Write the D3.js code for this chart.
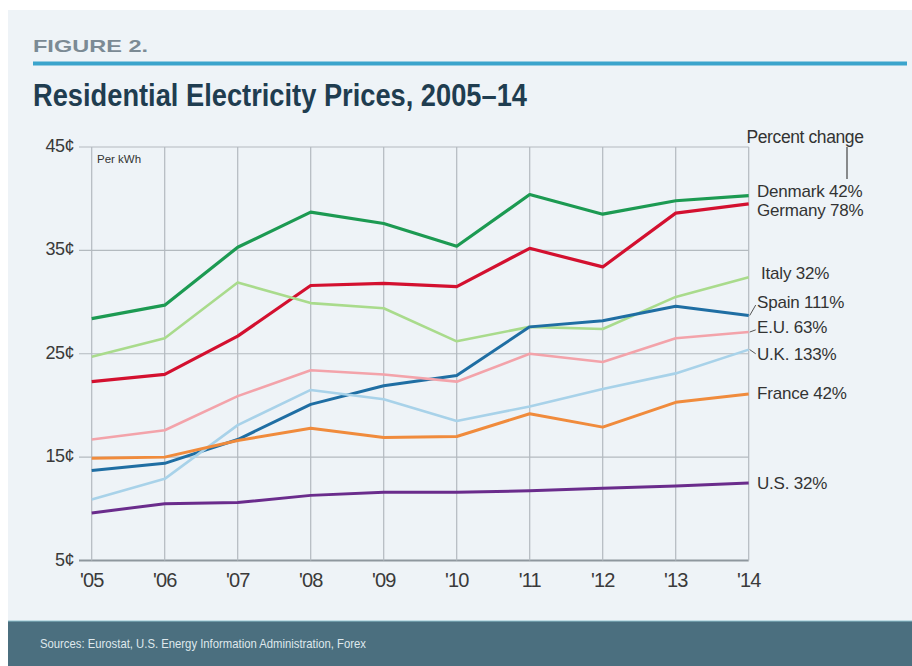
<!DOCTYPE html>
<html>
<head>
<meta charset="utf-8">
<script src="https://cdn.jsdelivr.net/npm/d3@7"></script>
<style>
  body { margin: 0; background: #fff; }
  text { font-family: "Liberation Sans", Arial, sans-serif; }
</style>
</head>
<body>
<div id="chart"></div>
<script>
// Data (cents per kWh)
var years = [2005, 2006, 2007, 2008, 2009, 2010, 2011, 2012, 2013, 2014];
var yearLabels = ["'05", "'06", "'07", "'08", "'09", "'10", "'11", "'12", "'13", "'14"];
var centTicks = [5, 15, 25, 35, 45];

var denmark = [28.4, 29.7, 35.3, 38.7, 37.6, 35.4, 40.4, 38.5, 39.8, 40.3];
var germany = [22.3, 23.0, 26.7, 31.6, 31.8, 31.5, 35.2, 33.4, 38.6, 39.5];
var italy   = [24.7, 26.5, 31.9, 29.9, 29.4, 26.2, 27.6, 27.4, 30.5, 32.4];
var spain   = [13.7, 14.4, 16.7, 20.1, 21.9, 22.9, 27.6, 28.2, 29.6, 28.7];
var eu      = [16.7, 17.6, 20.9, 23.4, 23.0, 22.3, 25.0, 24.2, 26.5, 27.1];
var uk      = [10.9, 12.9, 18.1, 21.5, 20.6, 18.5, 19.9, 21.6, 23.1, 25.4];
var france  = [14.9, 15.0, 16.6, 17.8, 16.9, 17.0, 19.2, 17.9, 20.3, 21.1];
var us      = [9.6, 10.5, 10.6, 11.3, 11.6, 11.6, 11.75, 12.0, 12.2, 12.5];

var names   = ["Denmark", "Germany", "Italy", "Spain", "E.U.", "U.K.", "France", "U.S."];
var changes = ["42%", "78%", "32%", "111%", "63%", "133%", "42%", "32%"];
var values  = [denmark, germany, italy, spain, eu, uk, france, us];

// label anchors (in cents) and styling
var labelAt = [40.7, 38.9, 32.8, 30.0, 27.6, 25.0, 21.2, 12.5];
var leader  = [false, false, false, true, true, true, false, false];
var colors  = ["#1c9a52", "#d3102f", "#a9db8c", "#1f6ea3", "#f3a3aa", "#a8d2e9", "#f08b3c", "#6a2c8c"];
var widths  = [3.2, 3.2, 2.6, 3, 2.6, 2.6, 3, 3];

var W = 912, H = 666;

var svg = d3.select("#chart")
    .append("svg")
    .attr("width", W)
    .attr("height", H);

// panel background and footer
svg.append("rect").attr("x", 8).attr("y", 10).attr("width", W - 8).attr("height", 612).attr("fill", "#eef3f7");
svg.append("rect").attr("x", 8).attr("y", 621).attr("width", W - 8).attr("height", 45).attr("fill", "#4b6f7f");
svg.append("line").attr("x1", 8).attr("x2", W).attr("y1", 621).attr("y2", 621)
    .attr("stroke", "#8fc3cf").attr("stroke-width", 1);

svg.append("text")
    .attr("x", 40).attr("y", 648)
    .attr("font-size", 13)
    .attr("fill", "#dfe8ec")
    .attr("textLength", 326).attr("lengthAdjust", "spacingAndGlyphs")
    .text("Sources: Eurostat, U.S. Energy Information Administration, Forex");

// header
svg.append("text")
    .attr("x", 33).attr("y", 52)
    .attr("font-size", 17).attr("font-weight", "bold")
    .attr("fill", "#7b8a94")
    .attr("textLength", 115).attr("lengthAdjust", "spacingAndGlyphs")
    .text("FIGURE 2.");

svg.append("line")
    .attr("x1", 33).attr("x2", 907).attr("y1", 63.5).attr("y2", 63.5)
    .attr("stroke", "#3ba4cc").attr("stroke-width", 4);

svg.append("text")
    .attr("x", 33).attr("y", 106)
    .attr("font-size", 31).attr("font-weight", "bold")
    .attr("fill", "#1f3d50")
    .attr("textLength", 494).attr("lengthAdjust", "spacingAndGlyphs")
    .text("Residential Electricity Prices, 2005\u201314");

// scales
var x = d3.scaleLinear().domain([2005, 2014]).range([91.7, 748.7]);
var y = d3.scaleLinear().domain([5, 45]).range([560.5, 147]);

// grid
var grid = svg.append("g");
grid.selectAll("line.h")
    .data(centTicks)
    .enter().append("line")
    .attr("x1", 79).attr("x2", x(2014))
    .attr("y1", function (d) { return y(d); })
    .attr("y2", function (d) { return y(d); })
    .attr("stroke", function (d) { return d === 5 ? "#8e979e" : "#b3babf"; })
    .attr("stroke-width", function (d) { return d === 5 ? 2 : 1.2; });

grid.selectAll("line.v")
    .data(years)
    .enter().append("line")
    .attr("x1", function (d) { return x(d); })
    .attr("x2", function (d) { return x(d); })
    .attr("y1", y(45)).attr("y2", y(5))
    .attr("stroke", "#b3babf").attr("stroke-width", 1.2);

// axes as text, driven by the scales
svg.selectAll("text.ytick")
    .data(centTicks)
    .enter().append("text")
    .attr("class", "ytick")
    .attr("x", 74)
    .attr("y", function (d) { return y(d) + 5; })
    .attr("text-anchor", "end")
    .attr("font-size", 18)
    .attr("fill", "#3a3a3a")
    .attr("letter-spacing", -0.5)
    .text(function (d) { return d + "\u00a2"; });

svg.selectAll("text.xtick")
    .data(years)
    .enter().append("text")
    .attr("class", "xtick")
    .attr("x", function (d) { return x(d); })
    .attr("y", 587)
    .attr("text-anchor", "middle")
    .attr("font-size", 20)
    .attr("fill", "#3a3a3a")
    .attr("letter-spacing", -0.9)
    .text(function (d, i) { return yearLabels[i]; });

svg.append("text")
    .attr("x", 97).attr("y", 163)
    .attr("font-size", 11.5)
    .attr("fill", "#333")
    .text("Per kWh");

// lines
var line = d3.line()
    .x(function (d, i) { return x(years[i]); })
    .y(function (d) { return y(d); });

svg.selectAll("path.series")
    .data(values)
    .enter().append("path")
    .attr("class", "series")
    .attr("d", line)
    .attr("fill", "none")
    .attr("stroke", function (d, i) { return colors[i]; })
    .attr("stroke-width", function (d, i) { return widths[i]; })
    .attr("stroke-linejoin", "round");

// end labels
svg.append("text")
    .attr("x", 805).attr("y", 143)
    .attr("text-anchor", "middle")
    .attr("font-size", 17.5)
    .attr("fill", "#333")
    .attr("letter-spacing", -0.4)
    .text("Percent change");
svg.append("line")
    .attr("x1", 847).attr("x2", 847).attr("y1", 147).attr("y2", 179)
    .attr("stroke", "#444").attr("stroke-width", 1.2);

svg.selectAll("path.leader")
    .data(values.filter(function (d, i) { return leader[i]; }))
    .enter().append("path")
    .attr("class", "leader")
    .attr("d", function (d) {
        var i = values.indexOf(d);
        return "M" + (x(2014) + 1) + "," + y(d[d.length - 1]) +
            "L" + (x(2014) + 7) + "," + (y(labelAt[i]) + (y(labelAt[i]) < y(d[d.length - 1]) ? 3 : 0));
    })
    .attr("fill", "none")
    .attr("stroke", "#555").attr("stroke-width", 1);

svg.selectAll("text.label")
    .data(names)
    .enter().append("text")
    .attr("class", "label")
    .attr("x", function (d, i) { return i === 2 ? 761 : 757; })
    .attr("y", function (d, i) { return y(labelAt[i]) + 6; })
    .attr("font-size", 17)
    .attr("fill", "#333")
    .attr("letter-spacing", -0.2)
    .text(function (d, i) { return d + " " + changes[i]; });
</script>
</body>
</html>
